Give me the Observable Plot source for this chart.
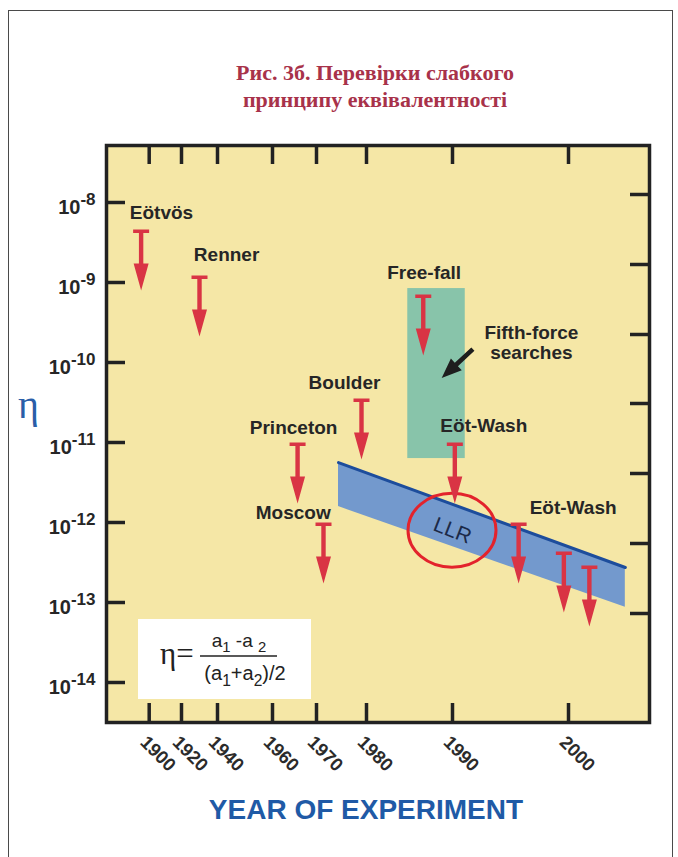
<!DOCTYPE html>
<html>
<head>
<meta charset="utf-8">
<script src="https://cdn.jsdelivr.net/npm/d3@7"></script>
<script src="https://cdn.jsdelivr.net/npm/@observablehq/plot@0.6"></script>
<style>
  body { margin: 0; background: #fff; }
  #page { position: relative; width: 678px; height: 857px; overflow: hidden; font-family: "Liberation Sans", Arial, sans-serif; }
  #border { position: absolute; left: 8px; top: 10px; width: 665px; height: 900px; border: 1.5px solid #4a4a4a; box-sizing: border-box; }
  #title { position: absolute; left: 0; top: 59px; width: 750px; text-align: center; font: bold 22px/27px "Liberation Serif", "Times New Roman", serif; color: #a8324a; }
  #chart { position: absolute; left: 0; top: 130px; }
  #eta { position: absolute; left: 18px; top: 385px; font: 40px/40px "Liberation Serif", serif; color: #2a5ea8; }
  #xtitle { position: absolute; left: 0; top: 796px; width: 732px; text-align: center; font: bold 28px/28px "Liberation Sans", Arial, sans-serif; color: #1f5aa6; }
</style>
</head>
<body>
<div id="page">
  <div id="border"></div>
  <div id="title">Рис. 3б. Перевірки слабкого<br>принципу еквівалентності</div>
  <div id="chart"></div>
  <div id="eta">η</div>
  <div id="xtitle">YEAR OF EXPERIMENT</div>
</div>
<script>
// Axis ticks
const yearTicks = [1900, 1920, 1940, 1960, 1970, 1980, 1990, 2000];
const etaTicks = [1e-8, 1e-9, 1e-10, 1e-11, 1e-12, 1e-13, 1e-14];
const rightTickExps = [-7.9, -8.775, -9.65, -10.5125, -11.3875, -12.2625, -13.1375];

// Upper limits on η set by each experiment
const expNames = ["Eötvös", "Renner", "Princeton", "Moscow", "Boulder", "Free-fall", "Eöt-Wash", "Eöt-Wash", "Eöt-Wash", "Eöt-Wash"];
const expYears = [1895, 1930, 1965.7, 1971.4, 1979, 1986.6, 1990.2, 1995.7, 1999.6, 2001.8];
const expLimits = [4.6e-9, 1.22e-9, 1.0e-11, 1.0e-12, 3.55e-11, 7.1e-10, 1.0e-11, 1.0e-12, 4.35e-13, 2.9e-13];

// Experiment labels
const labelText = ["Eötvös", "Renner", "Princeton", "Moscow", "Boulder", "Free-fall", "Eöt-Wash", "Eöt-Wash", "Fifth-force\nsearches"];
const labelYears = [1907.6, 1943.3, 1964.8, 1964.7, 1975.6, 1986.7, 1992.7, 2000.4, 1996.8];
const labelEtas = [7.5e-9, 2.24e-9, 1.54e-11, 1.33e-12, 5.6e-11, 1.33e-9, 1.63e-11, 1.54e-12, 1.75e-10];

// Fifth-force search region
const fifthYears = [1984.8, 1991.1];
const fifthEtas = [8.4e-10, 6.3e-12];
const pointerFrom = [1991.8, 1.45e-10];
const pointerTo = [1988.8, 6.3e-11];

// Lunar laser ranging band
const llrYears = [1974.4, 2004.9];
const llrUpper = [5.6e-12, 2.74e-13];
const llrLower = [1.58e-12, 8.7e-14];
const llrYear = 1990;
const llrEta = 7.9e-13;

const experiments = expNames.map((name, i) => ({name, year: expYears[i], eta: expLimits[i]}));
const labels = labelText.map((text, i) => ({text, year: labelYears[i], eta: labelEtas[i]}));
const fifthForce = [{x1: fifthYears[0], x2: fifthYears[1], y1: fifthEtas[1], y2: fifthEtas[0]}];
const llrBand = llrYears.map((year, i) => ({year, hi: llrUpper[i], lo: llrLower[i]}));

const W = 678, H = 700;
const M = {top: 15, right: 29, bottom: 108, left: 106};
const innerW = W - M.left - M.right;
const innerH = H - M.top - M.bottom;
const TICK = 19;
const INK = "#262626";

// Upper-limit symbol: cap bar, shaft and a filled head pointing along the vector
const limitArrow = {
  draw(ctx, l) {
    const bar = 8, t = 3.5, shaft = 2.2, head = 7.5, hl = 27;
    ctx.moveTo(-bar, 0); ctx.lineTo(bar, 0); ctx.lineTo(bar, -t); ctx.lineTo(-bar, -t); ctx.closePath();
    ctx.moveTo(-shaft, -t); ctx.lineTo(shaft, -t); ctx.lineTo(shaft, -(l - hl)); ctx.lineTo(-shaft, -(l - hl)); ctx.closePath();
    ctx.moveTo(-head, -(l - hl)); ctx.lineTo(head, -(l - hl)); ctx.lineTo(0, -l); ctx.closePath();
  }
};

function ringMark(index, {x, y}) {
  return d3.create("svg:ellipse")
    .attr("cx", x(llrYear)).attr("cy", y(llrEta))
    .attr("rx", 44).attr("ry", 37)
    .attr("fill", "none").attr("stroke", "#e3232c").attr("stroke-width", 3)
    .node();
}

function pointerMark(index, {x, y}) {
  const x1 = x(pointerFrom[0]), y1 = y(pointerFrom[1]);
  const x2 = x(pointerTo[0]), y2 = y(pointerTo[1]);
  const len = Math.hypot(x2 - x1, y2 - y1);
  const ang = Math.atan2(y2 - y1, x2 - x1) * 180 / Math.PI;
  const hl = 20, hw = 8, sw = 2.3;
  const d = `M0,${-sw}L${len - hl},${-sw}L${len - hl},${-hw}L${len},0L${len - hl},${hw}L${len - hl},${sw}L0,${sw}Z`;
  return d3.create("svg:path").attr("d", d).attr("fill", "#1e1e1e")
    .attr("transform", `translate(${x1},${y1}) rotate(${ang})`).node();
}

function formulaMark(index, scales, values, dims) {
  const g = d3.create("svg:g").attr("fill", "#222");
  const L = dims.marginLeft + 32, B = dims.height - dims.marginBottom - 23, T = B - 80;
  g.append("rect").attr("x", L).attr("y", T).attr("width", 173).attr("height", 80).attr("fill", "#fff");
  g.append("text").attr("x", L + 22).attr("y", T + 45).attr("text-anchor", "start")
    .attr("font-family", '"Liberation Serif", serif').attr("font-size", 31).text("η=");
  g.append("line").attr("x1", L + 62).attr("x2", L + 139).attr("y1", T + 37).attr("y2", T + 37)
    .attr("stroke", "#222").attr("stroke-width", 1.5);
  g.append("text").attr("x", L + 101).attr("y", T + 28).attr("text-anchor", "middle")
    .attr("font-size", 19).text("a_{1} -a _{2}");
  g.append("text").attr("x", L + 107).attr("y", T + 61).attr("text-anchor", "middle")
    .attr("font-size", 20).text("(a_{1}+a_{2})/2");
  return g.node();
}

const chart = Plot.plot({
  width: W, height: H,
  marginTop: M.top, marginRight: M.right, marginBottom: M.bottom, marginLeft: M.left,
  style: {fontFamily: '"Liberation Sans", Arial, sans-serif', overflow: "visible", background: "transparent"},
  x: {type: "linear", domain: yearTicks, range: [148.7, 181, 217, 272, 316, 366, 452, 568], axis: null},
  y: {type: "log", domain: [10 ** -14.5, 10 ** -7.2875], axis: null},
  marks: [
    Plot.frame({fill: "#f5e7a6", stroke: "none"}),
    Plot.rect(fifthForce, {x1: "x1", x2: "x2", y1: "y1", y2: "y2", fill: "#88c4aa"}),
    Plot.areaY(llrBand, {x: "year", y1: "lo", y2: "hi", fill: "#7399cd"}),
    Plot.line(llrBand, {x: "year", y: "hi", stroke: "#1d4d9c", strokeWidth: 3}),
    ringMark,
    Plot.text(["LLR"], {x: () => llrYear, y: () => llrEta, text: d => d, rotate: 21, fontSize: 21, fill: "#1c2a48"}),
    Plot.vector(experiments, {x: "year", y: "eta", rotate: 180, length: 61, anchor: "start", shape: limitArrow, fill: "#d93444", stroke: "none"}),
    Plot.text(labels, {x: "year", y: "eta", text: "text", fontSize: 19, fontWeight: "bold", fill: INK, lineHeight: 1.05}),
    pointerMark,
    formulaMark,
    Plot.tickY(etaTicks, {y: d => d, insetRight: innerW - TICK, stroke: "#222", strokeWidth: 3.5}),
    Plot.tickY(rightTickExps, {y: e => 10 ** e, insetLeft: innerW - TICK, stroke: "#222", strokeWidth: 3.5}),
    Plot.tickX(yearTicks, {x: d => d, insetBottom: innerH - TICK, stroke: "#222", strokeWidth: 3.5}),
    Plot.tickX(yearTicks, {x: d => d, insetTop: innerH - TICK, stroke: "#222", strokeWidth: 3.5}),
    Plot.frame({stroke: "#222", strokeWidth: 3.5}),
    Plot.text(etaTicks, {y: d => d, frameAnchor: "left", text: d => `10^{${Math.round(Math.log10(d))}}`,
      textAnchor: "end", dx: -11, dy: 5, fontSize: 20, fontWeight: "bold", fill: INK}),
    Plot.text(yearTicks, {x: d => d, frameAnchor: "bottom", text: d => String(d), rotate: 45,
      textAnchor: "start", dx: -10, dy: 21, fontSize: 18.5, fontWeight: "bold", fill: "#2b2b2b"})
  ]
});

document.getElementById("chart").appendChild(chart);

// Turn ^{...} and _{...} into raised / lowered tspans
function superSub(root) {
  const ns = "http://www.w3.org/2000/svg";
  root.querySelectorAll("text").forEach(node => {
    const s = node.textContent;
    if (!/[\^_]\{/.test(s)) return;
    const fs = parseFloat(getComputedStyle(node).fontSize) || 16;
    const parts = s.split(/([\^_]\{[^}]*\})/);
    node.textContent = "";
    let shift = 0;
    for (const p of parts) {
      if (!p) continue;
      const m = p.match(/^([\^_])\{([^}]*)\}$/);
      const ts = document.createElementNS(ns, "tspan");
      if (m) {
        const sup = m[1] === "^";
        const target = sup ? -0.45 * fs : 0.28 * fs;
        ts.setAttribute("dy", target - shift);
        shift = target;
        ts.setAttribute("font-size", (sup ? 0.85 : 0.78) * fs);
        ts.textContent = m[2];
      } else {
        ts.setAttribute("dy", -shift);
        shift = 0;
        ts.textContent = p;
      }
      node.appendChild(ts);
    }
  });
}
superSub(chart);
</script>
</body>
</html>
